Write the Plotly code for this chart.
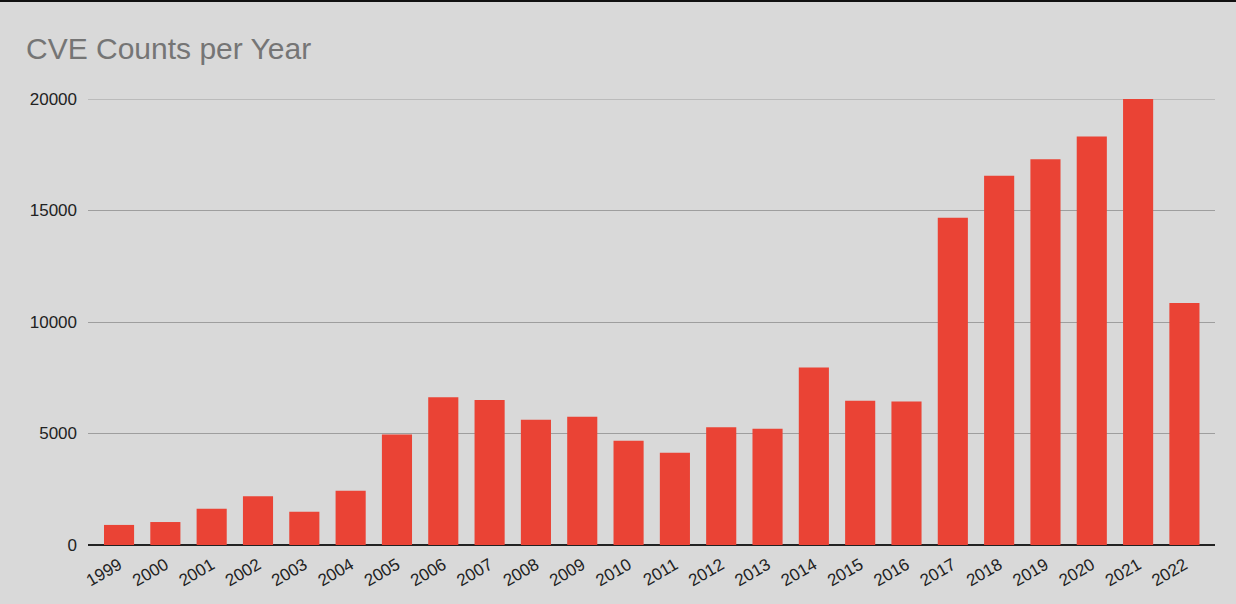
import plotly.graph_objects as go

years = [str(y) for y in range(1999, 2023)]
counts = [900, 1030, 1620, 2190, 1490, 2430, 4950, 6620, 6500, 5620, 5750, 4680,
          4140, 5280, 5215, 7960, 6470, 6430, 14670, 16560, 17300, 18320, 20171, 10850]
y_ticks = [0, 5000, 10000, 15000, 20000]

fig = go.Figure(go.Bar(x=years, y=counts, marker=dict(color="#ea4335", line=dict(width=0)),
                       cliponaxis=True))

fig.update_layout(
    width=1236, height=604,
    paper_bgcolor="#d9d9d9", plot_bgcolor="#d9d9d9",
    margin=dict(l=88, r=21, t=99, b=59),
    bargap=0.35,
    showlegend=False,
    title=dict(text="CVE Counts per Year", x=26/1236, xanchor="left", y=1-48/604, yanchor="middle",
               font=dict(family="Liberation Sans, Arial", size=30, color="#757575")),
    font=dict(family="Liberation Sans, Arial", size=17, color="#222222"),
)
fig.update_xaxes(type="category", range=[-0.67, 23.66], tickangle=-30, showgrid=False,
                 showline=False, ticks="", ticklabelstandoff=6,
                 tickfont=dict(size=17, color="#222222"))
fig.update_yaxes(range=[0, 20000], tickvals=y_ticks, ticktext=[str(v) for v in y_ticks],
                 showgrid=True, gridcolor="#9e9e9e", gridwidth=1, zeroline=True,
                 zerolinecolor="#222222", zerolinewidth=1.5, ticks="", ticklabelstandoff=10,
                 tickfont=dict(size=17, color="#222222"))
fig.add_hline(y=y_ticks[-1], line=dict(color="#9e9e9e", width=1), layer="below")
fig.add_shape(type="rect", xref="paper", yref="paper", x0=-88/1127, x1=1+21/1127,
              y0=1+97/446, y1=1+99/446, fillcolor="#111111", line=dict(width=0))
fig.write_html("out.html")
